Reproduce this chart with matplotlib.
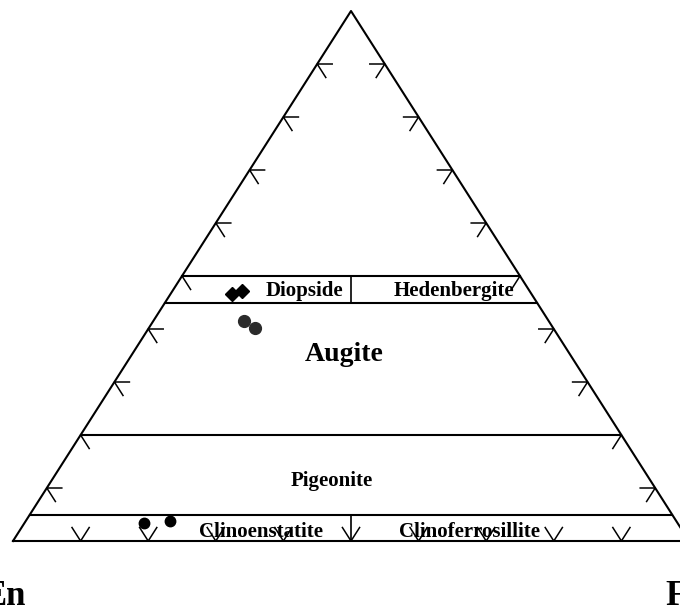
import numpy as np
import matplotlib
matplotlib.use("Agg")
import matplotlib.pyplot as plt

plt.rcParams['font.family'] = ['Liberation Serif', 'DejaVu Serif']

# Составы (мол. %): Wo, En, Fs
diopside_wo = [46.6, 47.2]
diopside_en = [44.3, 42.5]
diopside_fs = [9.1, 10.3]

augite_wo = [41.5, 40.2]
augite_en = [45.1, 44.1]
augite_fs = [13.4, 15.7]

clino_wo = [3.4, 3.8]
clino_en = [78.9, 74.9]
clino_fs = [17.7, 21.3]

# Границы полей (Wo, %) и деления
boundaries_wo = [5, 20, 45, 50]
tick_values = [10, 20, 30, 40, 50, 60, 70, 80, 90]

field_labels = ['Diopside', 'Hedenbergite', 'Augite', 'Pigeonite',
                'Clinoenstatite', 'Clinoferrosillite']


def to_xy(wo, en, fs):
    wo = np.asarray(wo, float)
    en = np.asarray(en, float)
    fs = np.asarray(fs, float)
    tot = wo + en + fs
    return (fs + 0.5 * wo) / tot, wo / tot


fig = plt.figure(figsize=(6.8, 6.1), dpi=100)
ax = fig.add_axes([13 / 680, 69 / 610, 676 / 680, 530 / 610])
ax.set_xlim(0, 1)
ax.set_ylim(0, 1)
ax.axis('off')

lw = 1.5
# треугольник
ax.plot([0, 1, 0.5, 0], [0, 0, 1, 0], color='black', lw=lw, clip_on=False)

# горизонтальные границы
for w in boundaries_wo:
    t = w / 100
    ax.plot([t / 2, 1 - t / 2], [t, t], color='black', lw=lw, clip_on=False)

# вертикальные разделители
ax.plot([0.5, 0.5], [0.45, 0.50], color='black', lw=1.2)
ax.plot([0.5, 0.5], [0.0, 0.05], color='black', lw=1.2)

# деления
a = 15 / 676
s = 16 / 628.6
for v in tick_values:
    t = v / 100
    # левая сторона
    x0, y0 = t / 2, t
    ax.plot([x0 + a, x0, x0 + 0.5 * s], [y0, y0, y0 - s], color='black', lw=1.1, clip_on=False)
    # правая сторона
    x0, y0 = 1 - t / 2, t
    ax.plot([x0 - a, x0, x0 - 0.5 * s], [y0, y0, y0 - s], color='black', lw=1.1, clip_on=False)
    # основание
    x0 = t
    ax.plot([x0 - 0.5 * s, x0, x0 + 0.5 * s], [s, 0, s], color='black', lw=1.1, clip_on=False)

# точки
x, y = to_xy(diopside_wo, diopside_en, diopside_fs)
ax.plot(x, y, 'D', color='black', ms=7, clip_on=False)
x, y = to_xy(augite_wo, augite_en, augite_fs)
ax.plot(x, y, 'o', color='#2b2b2b', ms=8.5, clip_on=False)
x, y = to_xy(clino_wo, clino_en, clino_fs)
ax.plot(x, y, 'o', color='black', ms=7.5, clip_on=False)

# подписи полей
label_pos = [(0.4305, 0.462, 15), (0.6516, 0.462, 15), (0.4896, 0.3396, 20),
             (0.4711, 0.1038, 15), (0.3676, 0.0075, 15), (0.676, 0.0075, 15)]
for name, (lx, ly, fsz) in zip(field_labels, label_pos):
    ax.text(lx, ly, name, ha='center', va='baseline', fontsize=fsz, fontweight='bold')

ax.text(0.0192, -0.1208, 'En', ha='right', va='baseline', fontsize=25, fontweight='bold')
ax.text(0.9645, -0.1208, 'Fs', ha='left', va='baseline', fontsize=25, fontweight='bold')

plt.savefig('out.png', dpi=100)
